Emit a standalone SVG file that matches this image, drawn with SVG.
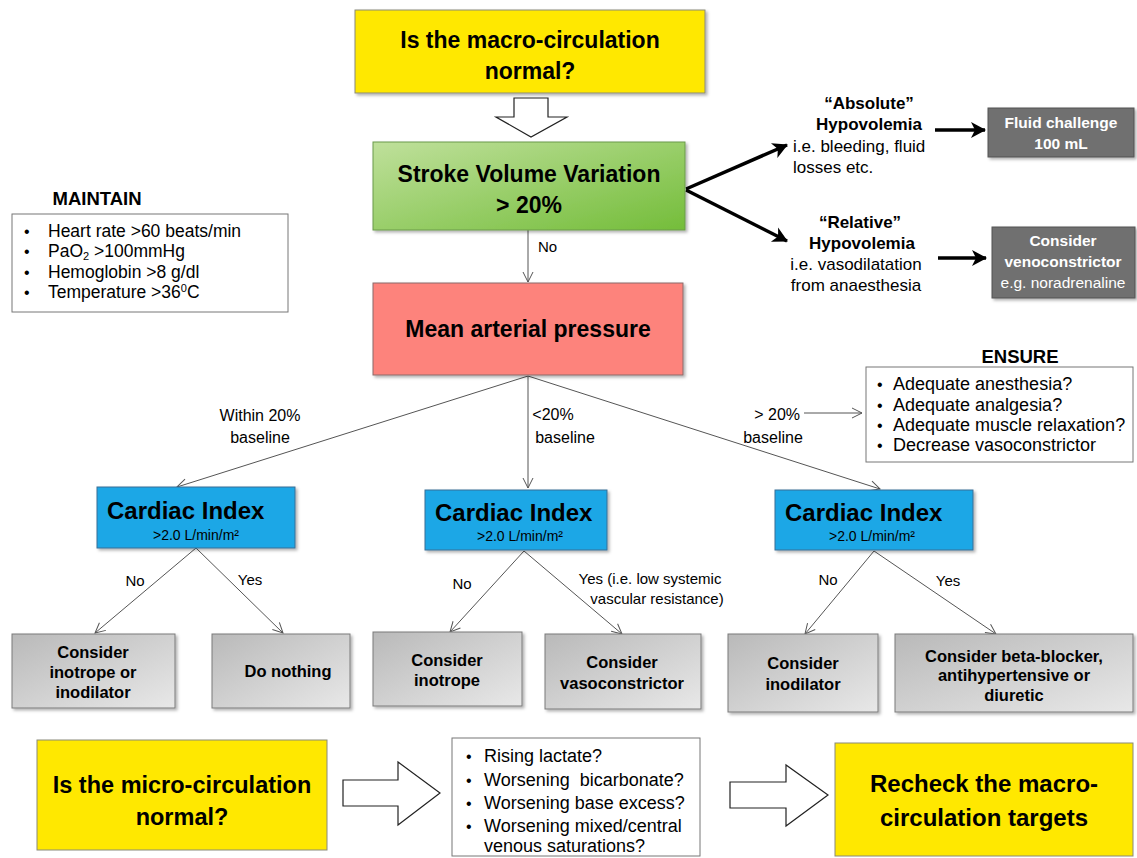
<svg xmlns="http://www.w3.org/2000/svg" width="1137" height="858" viewBox="0 0 1137 858">
<defs>
<style>
text{font-family:"Liberation Sans",Arial,sans-serif;fill:#000;white-space:pre}
.b{font-weight:bold}
.c{text-anchor:middle}
.yel{fill:#ffe800;stroke:#8a8a7a;stroke-width:1}
.gray{fill:url(#gg);stroke:#7a7a7a;stroke-width:1}
.blue{fill:#1fa7e6;stroke:#3a6e96;stroke-width:1}
.dark{fill:#6f6f6f;stroke:#555;stroke-width:1}
.wbox{fill:#fff;stroke:#777;stroke-width:1}
.thin{stroke:#555;stroke-width:1;fill:none;marker-end:url(#oa)}
.thick{stroke:#000;stroke-width:3.5;fill:none;marker-end:url(#ta)}
.blk{fill:#fff;stroke:#222;stroke-width:1.2}
.wt{fill:#fff}
.sh{filter:url(#ds)}
</style>
<linearGradient id="gg" x1="0" y1="0" x2="1" y2="1">
<stop offset="0" stop-color="#b9b9b9"/><stop offset="1" stop-color="#e8e8e8"/>
</linearGradient>
<linearGradient id="gr" x1="0" y1="0" x2="1" y2="1">
<stop offset="0" stop-color="#bfe09b"/><stop offset="1" stop-color="#74bd3a"/>
</linearGradient>
<marker id="oa" viewBox="0 0 12 12" refX="11" refY="6" markerWidth="12" markerHeight="12" markerUnits="userSpaceOnUse" orient="auto">
<path d="M1,1 L11,6 L1,11" fill="none" stroke="#555" stroke-width="1"/>
</marker>
<marker id="ta" viewBox="0 0 20 20" refX="17" refY="10" markerWidth="20" markerHeight="20" markerUnits="userSpaceOnUse" orient="auto">
<path d="M3,2 L18,10 L3,18 L7,10 Z" fill="#000"/>
</marker>
<filter id="ds" x="-10%" y="-10%" width="125%" height="130%">
<feDropShadow dx="2" dy="2" stdDeviation="1.5" flood-color="#000" flood-opacity="0.3"/>
</filter>
</defs>

<g id="connectors">
<polygon class="blk" points="514,98 548,98 548,117 567,117 531,137 496,117 514,117"/>
<path class="thick" d="M686,189 L787,145"/>
<path class="thick" d="M686,190 L787,241"/>
<path class="thick" d="M935,130 L985,130"/>
<path class="thick" d="M938,258 L986,258"/>
<path class="thin" d="M528,230 L528,282"/>
<path class="thin" d="M528,376 L177,487"/>
<path class="thin" d="M528,376 L528,488"/>
<path class="thin" d="M528,376 L880,489"/>
<path class="thin" d="M804,413 L862,413"/>
<path class="thin" d="M196,548 L95,633"/>
<path class="thin" d="M196,548 L283,633"/>
<path class="thin" d="M524,551 L450,632"/>
<path class="thin" d="M524,551 L622,634"/>
<path class="thin" d="M874,551 L805,634"/>
<path class="thin" d="M874,551 L996,634"/>
<polygon class="blk" points="343,780 398,780 398,762 440,793 398,825 398,806 343,806"/>
<polygon class="blk" points="730,782 786,782 786,765 828,795 786,826 786,808 730,808"/>
<text x="538" y="252" font-size="15">No</text>
<text class="c" x="260" y="421" font-size="16">Within 20%</text>
<text class="c" x="260" y="443" font-size="16">baseline</text>
<text class="c" x="553" y="420" font-size="16">&lt;20%</text>
<text class="c" x="565" y="443" font-size="16">baseline</text>
<text x="800" y="420" font-size="16" text-anchor="end">&gt; 20%</text>
<text class="c" x="773" y="443" font-size="16">baseline</text>
<text class="c" x="135" y="586" font-size="15">No</text>
<text class="c" x="250" y="585" font-size="15">Yes</text>
<text class="c" x="462" y="589" font-size="15">No</text>
<text class="c" x="650" y="584" font-size="15">Yes (i.e. low systemic</text>
<text class="c" x="657" y="604" font-size="15">vascular resistance)</text>
<text class="c" x="828" y="585" font-size="15">No</text>
<text class="c" x="948" y="586" font-size="15">Yes</text>
</g>

<g id="macro">
<rect class="yel sh" x="355" y="10" width="350" height="83"/>
<text class="b c" x="530" y="48" font-size="23">Is the macro-circulation</text>
<text class="b c" x="530" y="79" font-size="23">normal?</text>
</g>

<g id="svv">
<rect class="sh" x="373" y="142" width="312" height="88" fill="url(#gr)" stroke="#6a9a4a"/>
<text class="b c" x="529" y="182" font-size="23">Stroke Volume Variation</text>
<text class="b c" x="529" y="213" font-size="23">&gt; 20%</text>
</g>

<g id="absolute">
<text class="b c" x="869" y="109" font-size="17">“Absolute”</text>
<text class="b c" x="869" y="130" font-size="17">Hypovolemia</text>
<text x="793" y="152" font-size="17">i.e. bleeding, fluid</text>
<text x="793" y="173" font-size="17">losses etc.</text>
</g>

<g id="fluid">
<rect class="dark sh" x="988" y="108" width="146" height="49"/>
<text class="b c wt" x="1061" y="128" font-size="15.5">Fluid challenge</text>
<text class="b c wt" x="1061" y="149" font-size="15.5">100 mL</text>
</g>

<g id="relative">
<text class="b c" x="860" y="228" font-size="17">“Relative”</text>
<text class="b c" x="862" y="249" font-size="17">Hypovolemia</text>
<text class="c" x="856" y="270" font-size="17">i.e. vasodilatation</text>
<text class="c" x="856" y="291" font-size="17">from anaesthesia</text>
</g>

<g id="venoconstrictor">
<rect class="dark sh" x="992" y="227" width="143" height="71"/>
<text class="b c wt" x="1063" y="246" font-size="15.5">Consider</text>
<text class="b c wt" x="1063" y="267" font-size="15.5">venoconstrictor</text>
<text class="c wt" x="1063" y="288" font-size="15.5">e.g. noradrenaline</text>
</g>

<g id="maintain">
<text class="b c" x="97" y="205" font-size="18.5">MAINTAIN</text>
<rect class="wbox" x="12" y="214" width="276" height="98"/>
<text x="24" y="237" font-size="16">•</text><text x="48" y="237" font-size="17.5">Heart rate &gt;60 beats/min</text>
<text x="24" y="257" font-size="16">•</text><text x="48" y="257" font-size="17.5">PaO<tspan font-size="11" dy="3">2</tspan><tspan dy="-3"> &gt;100mmHg</tspan></text>
<text x="24" y="278" font-size="16">•</text><text x="48" y="278" font-size="17.5">Hemoglobin &gt;8 g/dl</text>
<text x="24" y="298" font-size="16">•</text><text x="48" y="298" font-size="17.5">Temperature &gt;36<tspan font-size="11" dy="-6">0</tspan><tspan dy="6">C</tspan></text>
</g>

<g id="map">
<rect class="sh" x="373" y="283" width="310" height="92" fill="#fd837c" stroke="#8a6a6a"/>
<text class="b c" x="528" y="337" font-size="23">Mean arterial pressure</text>
</g>

<g id="ensure">
<text class="b c" x="1020" y="363" font-size="18.5">ENSURE</text>
<rect class="wbox" x="866" y="367" width="267" height="95"/>
<text x="877" y="390" font-size="16">•</text><text x="893" y="390" font-size="18">Adequate anesthesia?</text>
<text x="877" y="411" font-size="16">•</text><text x="893" y="411" font-size="18">Adequate analgesia?</text>
<text x="877" y="431" font-size="16">•</text><text x="893" y="431" font-size="18">Adequate muscle relaxation?</text>
<text x="877" y="451" font-size="16">•</text><text x="893" y="451" font-size="18">Decrease vasoconstrictor</text>
</g>

<g id="ci-left">
<rect class="blue sh" x="97" y="487" width="198" height="61"/>
<text class="b" x="107" y="519" font-size="24">Cardiac Index</text>
<text class="c" x="196" y="540" font-size="14">&gt;2.0 L/min/m²</text>
</g>
<g id="ci-mid">
<rect class="blue sh" x="425" y="490" width="182" height="60"/>
<text class="b" x="435" y="521" font-size="24">Cardiac Index</text>
<text class="c" x="520" y="541" font-size="14">&gt;2.0 L/min/m²</text>
</g>
<g id="ci-right">
<rect class="blue sh" x="775" y="490" width="198" height="60"/>
<text class="b" x="785" y="521" font-size="24">Cardiac Index</text>
<text class="c" x="872" y="541" font-size="14">&gt;2.0 L/min/m²</text>
</g>

<g id="inotrope-inodilator">
<rect class="gray sh" x="12" y="634" width="163" height="74"/>
<text class="b c" x="93" y="658" font-size="16.5">Consider</text>
<text class="b c" x="93" y="678" font-size="16.5">inotrope or</text>
<text class="b c" x="93" y="698" font-size="16.5">inodilator</text>
</g>
<g id="do-nothing">
<rect class="gray sh" x="212" y="634" width="138" height="74"/>
<text class="b c" x="288" y="677" font-size="16.5">Do nothing</text>
</g>
<g id="inotrope">
<rect class="gray sh" x="373" y="632" width="149" height="74"/>
<text class="b c" x="447" y="666" font-size="16.5">Consider</text>
<text class="b c" x="447" y="686" font-size="16.5">inotrope</text>
</g>
<g id="vasoconstrictor">
<rect class="gray sh" x="545" y="634" width="156" height="75"/>
<text class="b c" x="622" y="668" font-size="16.5">Consider</text>
<text class="b c" x="622" y="689" font-size="16.5">vasoconstrictor</text>
</g>
<g id="inodilator">
<rect class="gray sh" x="728" y="634" width="150" height="78"/>
<text class="b c" x="803" y="669" font-size="16.5">Consider</text>
<text class="b c" x="803" y="690" font-size="16.5">inodilator</text>
</g>
<g id="beta-blocker">
<rect class="gray sh" x="895" y="634" width="238" height="78"/>
<text class="b c" x="1014" y="662" font-size="16.5">Consider beta-blocker,</text>
<text class="b c" x="1014" y="681" font-size="16.5">antihypertensive or</text>
<text class="b c" x="1014" y="701" font-size="16.5">diuretic</text>
</g>

<g id="micro">
<rect class="yel" x="37" y="740" width="290" height="110"/>
<text class="b c" x="182" y="793" font-size="23.5">Is the micro-circulation</text>
<text class="b c" x="182" y="825" font-size="23.5">normal?</text>
</g>

<g id="markers">
<rect class="wbox" x="452" y="738" width="248" height="118"/>
<text x="466" y="762" font-size="16">•</text><text x="484" y="762" font-size="18">Rising lactate?</text>
<text x="466" y="786" font-size="16">•</text><text x="484" y="786" font-size="18">Worsening  bicarbonate?</text>
<text x="466" y="809" font-size="16">•</text><text x="484" y="809" font-size="18">Worsening base excess?</text>
<text x="466" y="832" font-size="16">•</text><text x="484" y="832" font-size="18">Worsening mixed/central</text>
<text x="484" y="852" font-size="18">venous saturations?</text>
</g>

<g id="recheck">
<rect class="yel" x="835" y="743" width="298" height="113"/>
<text class="b c" x="984" y="792" font-size="24">Recheck the macro-</text>
<text class="b c" x="984" y="826" font-size="24">circulation targets</text>
</g>
</svg>
